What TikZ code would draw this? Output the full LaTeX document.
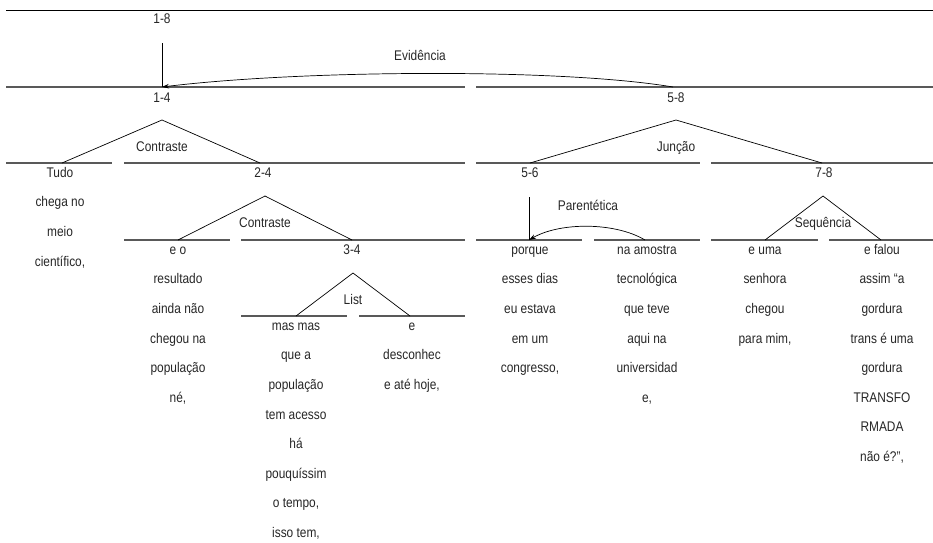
\documentclass[tikz,border=0pt]{standalone}
\usepackage{fontspec}
\setmainfont[FakeStretch=0.85]{Liberation Sans}
\usetikzlibrary{arrows.meta}
\begin{document}
\begin{tikzpicture}[x=1pt, y=-1pt,
                    every node/.style={inner sep=0pt, text=black!85, font=\fontsize{14}{29.6}\selectfont},
                    span/.style={anchor=base},
                    rel/.style={anchor=base},
                    txt/.style={anchor=north, align=center},
                    seg/.style={draw=black!65, line width=1.1pt},
                    leg/.style={draw, line width=0.7pt},
                    sat/.style={draw, line width=0.7pt, -{Stealth[length=7pt,width=4.5pt]}}
                    ]
                    \useasboundingbox (0,0) rectangle (933,542);
                    \draw[line width=0.8pt] (6,10.5) -- (933,10.5);

                    \foreach \y/\a/\b in {87/6/465, 87/476/933,
                        163/6/112, 163/124/465, 163/476/700, 163/711/933,
                        240/124/230, 240/241/465, 240/476/582, 240/594/700, 240/711/818, 240/829/933,
                        316/241/347, 316/359/465}{
                        \draw[seg] (\a,\y) -- (\b,\y);
                    }

                    \node[span] (n18) at (162,23.5) {1-8};
                    \node[span] (n14) at (162,102) {1-4};
                    \node[span] (n58) at (676,102) {5-8};
                    \node[span] (n24) at (263,177) {2-4};
                    \node[span] (n56) at (530,177) {5-6};
                    \node[span] (n78) at (824,177) {7-8};
                    \node[span] (n34) at (352,254) {3-4};

                    \node[rel] (evid) at (420,60) {Evidência};
                    \node[rel] (contr1) at (162,151) {Contraste};
                    \node[rel] (junc) at (676,151) {Junção};
                    \node[rel] (contr2) at (265,227) {Contraste};
                    \node[rel] (list) at (353,304) {List};
                    \node[rel] (paren) at (588,210) {Parentética};
                    \node[rel] (seq) at (823,227) {Sequência};

                    \node[txt] (u1) at (60,156.3) {\strut Tudo\\chega no\\meio\\científico,};
                    \node[txt] (u2) at (178,233.3) {\strut e o\\resultado\\ainda não\\chegou na\\população\\né,};
                    \node[txt] (u3) at (296,309.3) {\strut mas mas\\que a\\população\\tem acesso\\há\\pouquíssim\\o tempo,\\isso tem,};
                    \node[txt] (u4) at (412,309.3) {\strut e\\desconhec\\e até hoje,};
                    \node[txt] (u5) at (530,233.3) {\strut porque\\esses dias\\eu estava\\em um\\congresso,};
                    \node[txt] (u6) at (647,233.3) {\strut na amostra\\tecnológica\\que teve\\aqui na\\universidad\\e,};
                    \node[txt] (u7) at (765,233.3) {\strut e uma\\senhora\\chegou\\para mim,};
                    \node[txt] (u8) at (882,233.3) {\strut e falou\\assim “a\\gordura\\trans é uma\\gordura\\TRANSFO\\RMADA\\não é?”,};

                    \coordinate (t14) at (162,120);
                    \coordinate (l14) at (62,163);
                    \coordinate (r14) at (260,163);
                    \coordinate (t58) at (676,120);
                    \coordinate (l58) at (530,163);
                    \coordinate (r58) at (822,163);
                    \coordinate (t24) at (265,196);
                    \coordinate (l24) at (178,240);
                    \coordinate (r24) at (352,240);
                    \coordinate (t34) at (353,273);
                    \coordinate (l34) at (296,316);
                    \coordinate (r34) at (410,316);
                    \coordinate (t78) at (823,196);
                    \coordinate (l78) at (765,240);
                    \coordinate (r78) at (881,240);
                    \coordinate (e1) at (162,43);
                    \coordinate (e2) at (162,87);
                    \coordinate (e3) at (673,87);
                    \coordinate (q1) at (529,197);
                    \coordinate (q2) at (529,240);
                    \coordinate (q3) at (645,240);

                    \foreach \i in {14,58,24,34,78}{
                        \draw[leg] (l\i) -- (t\i) -- (r\i);
                    }
                    \draw[leg] (e1) -- (e2);
                    \draw[sat] (e3) .. controls (560,68) and (300,70) .. (e2);
                    \draw[leg] (q1) -- (q2);
                    \draw[sat] (q3) .. controls (615,222) and (560,222) .. (q2);
                \end{tikzpicture}
\end{document}
